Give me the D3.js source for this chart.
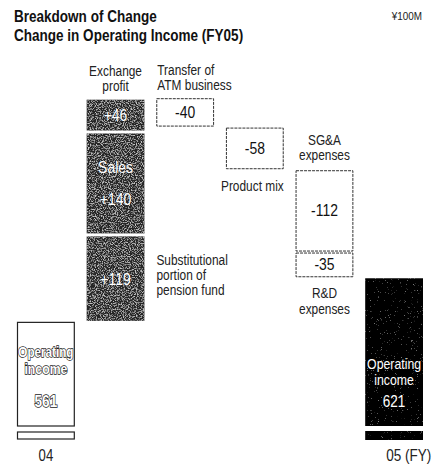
<!DOCTYPE html>
<html>
<head>
<meta charset="utf-8">
<script src="https://cdn.jsdelivr.net/npm/d3@7/dist/d3.min.js"></script>
<style>
  html, body { margin: 0; padding: 0; background: #fff; }
  svg { display: block; }
</style>
</head>
<body>
<svg id="chart" width="442" height="464"></svg>
<script>
// ---- Data ----
const startLabel = "04";
const startValue = 561;
const endLabel = "05 (FY)";
const endValue = 621;
const stepLabels = ["Substitutional portion of pension fund", "Sales", "Exchange profit",
                    "Transfer of ATM business", "Product mix", "SG&A expenses", "R&D expenses"];
const stepValues = [119, 140, 46, -40, -58, -112, -35];
const stepValueText = ["+119", "+140", "+46", "-40", "-58", "-112", "-35"];
const stepColumns = ["inc", "inc", "inc", "atm", "mix", "exp", "exp"];
const columnOrder = ["start", "inc", "atm", "mix", "exp", "end"];
const titleLines = ["Breakdown of Change", "Change in Operating Income (FY05)"];
const unitLabel = "¥100M";

// ---- Setup ----
const F = "'Liberation Sans',Arial,sans-serif";
const SX = 0.82; // horizontal condensing of the type
const svg = d3.select("#chart");

const defs = svg.append("defs");
function grain(id, freq, alphaMul, alphaOff, grey, seed) {
  const f = defs.append("filter").attr("id", id)
    .attr("x", 0).attr("y", 0).attr("width", "100%").attr("height", "100%");
  f.append("feTurbulence").attr("type", "fractalNoise").attr("baseFrequency", freq)
    .attr("numOctaves", 3).attr("seed", seed).attr("result", "n");
  f.append("feColorMatrix").attr("in", "n").attr("type", "matrix")
    .attr("values", `0 0 0 0 ${grey}  0 0 0 0 ${grey}  0 0 0 0 ${grey}  ${alphaMul} 0 0 0 ${alphaOff}`).attr("result", "g");
  f.append("feComposite").attr("in", "g").attr("in2", "SourceGraphic").attr("operator", "in").attr("result", "gi");
  const m = f.append("feMerge");
  m.append("feMergeNode").attr("in", "SourceGraphic");
  m.append("feMergeNode").attr("in", "gi");
}
grain("grain", 0.85, 3.6, -1.7, 0.55, 7);
grain("grainDark", 1.3, 3.0, -2.1, 0.4, 3);

const x = d3.scaleBand().domain(columnOrder).range([17, 423]).paddingInner(0.17).paddingOuter(0);
const baseVal = 420;
const y = d3.scaleLinear().domain([baseVal, 880]).range([426, 426 - 460 * 0.735]);
const bw = x.bandwidth();

// condensed text helper
function T(xx, yy, str, size, opts = {}) {
  const t = svg.append("text")
    .attr("transform", `translate(${xx},${yy}) scale(${opts.sx || SX},1)`)
    .attr("font-family", F).attr("font-size", size)
    .attr("font-weight", opts.weight || "normal")
    .attr("text-anchor", opts.anchor || "start")
    .attr("fill", opts.fill || "#222")
    .text(str);
  return t;
}

// cumulative steps
let cum = startValue;
const steps = stepValues.map((v, i) => {
  const from = cum; cum += v;
  return { label: stepLabels[i], v, text: stepValueText[i], col: stepColumns[i],
           lo: Math.min(from, cum), hi: Math.max(from, cum) };
});

// ---- Title ----
T(14, 22, titleLines[0], 16.5, { weight: "bold", fill: "#111" });
T(14, 41, titleLines[1], 16.5, { weight: "bold", fill: "#111" });
T(422, 20, unitLabel, 11, { anchor: "end", sx: 0.9 });

// ---- Start bar (04) ----
const sx = x("start");
svg.append("rect").attr("x", sx + 0.5).attr("y", y(startValue)).attr("width", bw - 1)
  .attr("height", y(baseVal) - y(startValue)).attr("fill", "#fff").attr("stroke", "#222").attr("stroke-width", 1.2);
svg.append("rect").attr("x", sx + 0.5).attr("y", y(baseVal) + 6).attr("width", bw - 1).attr("height", 7)
  .attr("fill", "#fff").attr("stroke", "#222").attr("stroke-width", 1.2);
const halo = (t) => t.attr("stroke", "#222").attr("stroke-width", 1.4).attr("paint-order", "stroke");
T(sx + bw / 2, 357, "Operating", 15, { anchor: "middle", fill: "#fff", weight: "bold", sx: 0.78 }).call(halo);
T(sx + bw / 2, 374, "income", 15, { anchor: "middle", fill: "#fff", weight: "bold", sx: 0.82 }).call(halo);
T(sx + bw / 2, 407, startValue, 16, { anchor: "middle", fill: "#fff", weight: "bold", sx: 0.85 }).call(halo);
T(sx + bw / 2, 461, startLabel, 16, { anchor: "middle" });

// ---- End bar (05) ----
const ex = x("end");
svg.append("rect").attr("x", ex).attr("y", y(endValue)).attr("width", bw)
  .attr("height", y(baseVal) - y(endValue)).attr("fill", "#050505").attr("filter", "url(#grainDark)");
svg.append("rect").attr("x", ex).attr("y", y(baseVal) + 5).attr("width", bw).attr("height", 9)
  .attr("fill", "#050505").attr("filter", "url(#grainDark)");
T(ex + bw / 2, 369, "Operating", 15, { anchor: "middle", fill: "#fff" });
T(ex + bw / 2, 385, "income", 15, { anchor: "middle", fill: "#fff" });
T(ex + bw / 2, 407, endValue, 16.5, { anchor: "middle", fill: "#fff" });
T(ex + 21, 461, endLabel, 16.5, {});

// ---- Steps ----
steps.forEach((s) => {
  const cx = x(s.col);
  const top = y(s.hi), bot = y(s.lo);
  if (s.v > 0) {
    svg.append("rect").attr("x", cx).attr("y", top + 1.5).attr("width", bw).attr("height", bot - top - 3)
      .attr("fill", "#262626").attr("filter", "url(#grain)");
  } else {
    svg.append("rect").attr("x", cx + 0.5).attr("y", top + 0.5).attr("width", bw - 1).attr("height", bot - top - 2)
      .attr("fill", "#fff").attr("stroke", "#333").attr("stroke-width", 1).attr("stroke-dasharray", "3,1");
  }
});

const mid = (s) => (y(s.hi) + y(s.lo)) / 2;
const [sPen, sSales, sExch, sAtm, sMix, sSga, sRd] = steps;
const cen = (c) => x(c) + bw / 2;
// values
T(cen("inc"), mid(sExch) + 6, sExch.text, 17, { anchor: "middle", fill: "#fff" });
T(cen("inc"), 173, "Sales", 17, { anchor: "middle", fill: "#fff" });
T(cen("inc"), 205, sSales.text, 17, { anchor: "middle", fill: "#fff" });
T(cen("inc"), mid(sPen) + 6, sPen.text, 17, { anchor: "middle", fill: "#fff" });
T(cen("atm"), mid(sAtm) + 5, sAtm.text, 17, { anchor: "middle", fill: "#111" });
T(cen("mix"), mid(sMix) + 5, sMix.text, 17, { anchor: "middle", fill: "#111" });
T(cen("exp"), mid(sSga) + 5, sSga.text, 17, { anchor: "middle", fill: "#111" });
T(cen("exp"), mid(sRd) + 5, sRd.text, 17, { anchor: "middle", fill: "#111" });

// annotations
const lab = (lines, xx, y0, anchor, dy) =>
  lines.forEach((l, k) => T(xx, y0 + k * dy, l, 14.5, { anchor }));
lab(["Exchange", "profit"], cen("inc"), y(sExch.hi) - 22, "middle", 15);
lab(["Transfer of", "ATM business"], x("atm") + 1, y(sAtm.hi) - 23, "start", 15);
lab(["Product mix"], x("mix") + bw, y(sMix.lo) + 21, "end", 15);
lab(["SG&A", "expenses"], cen("exp"), y(sSga.hi) - 25, "middle", 15);
lab(["R&D", "expenses"], cen("exp"), y(sRd.lo) + 20, "middle", 16);
lab(["Substitutional", "portion of", "pension fund"], x("inc") + bw + 12, y(sPen.hi) + 30, "start", 15);
</script>
</body>
</html>
